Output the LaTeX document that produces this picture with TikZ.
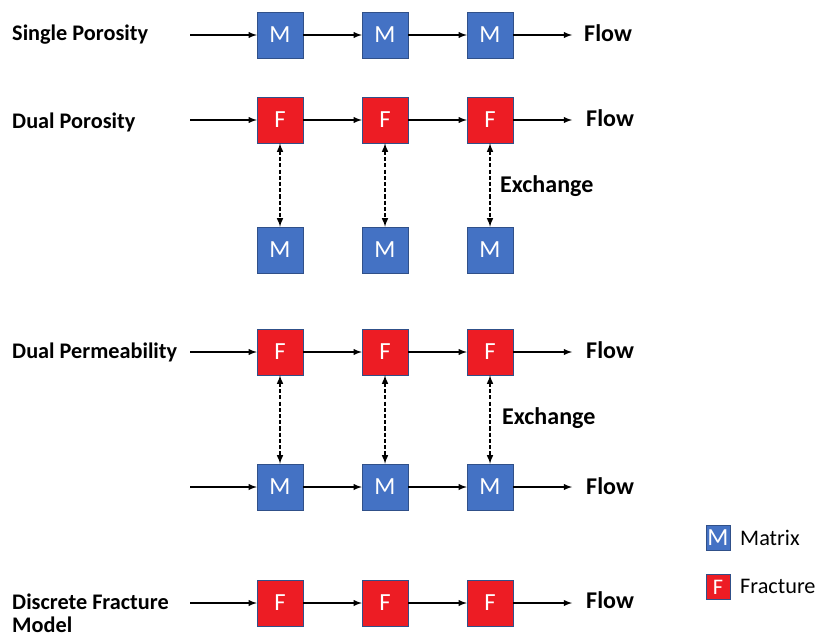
\documentclass[tikz,border=0pt]{standalone}
\usepackage{fontspec}
\setmainfont{Carlito}
\usetikzlibrary{arrows,calc}
\tikzset{>=latex}
\definecolor{mblue}{HTML}{4472C4}
\definecolor{fred}{HTML}{ED1C24}
\tikzstyle{matrixbox}=[rectangle,draw=mblue!70!black,fill=mblue,thin,minimum height=1.38cm,minimum width=1.38cm,text=white,font=\fontsize{21}{22}\selectfont]
\tikzstyle{fracbox}=[rectangle,draw=mblue!70!black,fill=fred,thin,minimum height=1.38cm,minimum width=1.38cm,text=white,font=\fontsize{21}{22}\selectfont]
\tikzstyle{flowarr}=[->,line width=1.4pt]
\tikzstyle{exarr}=[<->,dash pattern=on 3.5pt off 1.8pt,line width=1.5pt]
\tikzstyle{rowlabel}=[anchor=west,inner sep=0pt,font=\bfseries\fontsize{19}{20}\selectfont,align=left]
\tikzstyle{flowlabel}=[anchor=west,inner sep=0pt,font=\bfseries\fontsize{20.5}{24}\selectfont]

\begin{document}
\begin{tikzpicture}[x=0.03cm,y=-0.03cm,inner sep=1mm]
\def \reldist {105};
\def \numb {3};
\def \first {175};
\def \inx {190};

\useasboundingbox (0,0) rectangle (815,640);

% single porosity
\node[rowlabel] (lsp) at (12,35) {Single Porosity};
\coordinate (sp0) at (\inx,35);
\foreach \i in {1,...,\numb} {
	\node[matrixbox] (sp\i) at (\first + \i * \reldist, 35) {M};
};
\node[flowlabel] (fsp) at (584,33) {Flow};

% dual porosity
\node[rowlabel] (ldp) at (12,122) {Dual Porosity};
\coordinate (dpF0) at (\inx,120);
\foreach \i in {1,...,\numb} {
	\node[fracbox] (dpF\i) at (\first + \i * \reldist, 120) {F};
	\node[matrixbox] (dpM\i) at (\first + \i * \reldist, 250) {M};
	\draw[exarr] (dpF\i) -- (dpM\i);
};
\node[flowlabel] (fdp) at (586,118) {Flow};
\node[flowlabel] (xdp) at (500,186) {Exchange};

% dual permeability
\node[rowlabel] (lpm) at (12,352) {Dual Permeability};
\coordinate (pmF0) at (\inx,352);
\coordinate (pmM0) at (\inx,487);
\foreach \i in {1,...,\numb} {
	\node[fracbox] (pmF\i) at (\first + \i * \reldist, 352) {F};
	\node[matrixbox] (pmM\i) at (\first + \i * \reldist, 487) {M};
	\draw[exarr] (pmF\i) -- (pmM\i);
};
\node[flowlabel] (fpmF) at (586,350) {Flow};
\node[flowlabel] (fpmM) at (586,486) {Flow};
\node[flowlabel] (xpm) at (502,418) {Exchange};

% discrete fracture model
\node[rowlabel] (ldf) at (12,613) {Discrete Fracture\\Model};
\coordinate (dfF0) at (\inx,603);
\foreach \i in {1,...,\numb} {
	\node[fracbox] (dfF\i) at (\first + \i * \reldist, 603) {F};
};
\node[flowlabel] (fdf) at (586,600) {Flow};

% flow arrows
\foreach \r in {sp,dpF,pmF,pmM,dfF} {
	\foreach \i [evaluate=\i as \j using int(\i+1)] in {0,...,2} {
		\draw[flowarr] (\r\i) -- (\r\j);
	};
};
\draw[flowarr] (sp3) -- ($(fsp.west)+(-12,2)$);
\draw[flowarr] (dpF3) -- ($(fdp.west)+(-14,2)$);
\draw[flowarr] (pmF3) -- ($(fpmF.west)+(-14,2)$);
\draw[flowarr] (pmM3) -- ($(fpmM.west)+(-14,1)$);
\draw[flowarr] (dfF3) -- ($(fdf.west)+(-14,3)$);

% legend
\node[matrixbox,minimum width=0.72cm,minimum height=0.75cm,inner sep=0pt] (lgM) at (718,538) {M};
\node[anchor=west,inner sep=0pt,font=\fontsize{19}{20}\selectfont] (lgMt) at (740,538) {Matrix};
\node[fracbox,minimum width=0.72cm,minimum height=0.75cm,inner sep=0pt,font=\fontsize{19}{20}\selectfont] (lgF) at (718,587) {F};
\node[anchor=west,inner sep=0pt,font=\fontsize{19}{20}\selectfont] (lgFt) at (740,586) {Fracture};

\end{tikzpicture}
\end{document}
